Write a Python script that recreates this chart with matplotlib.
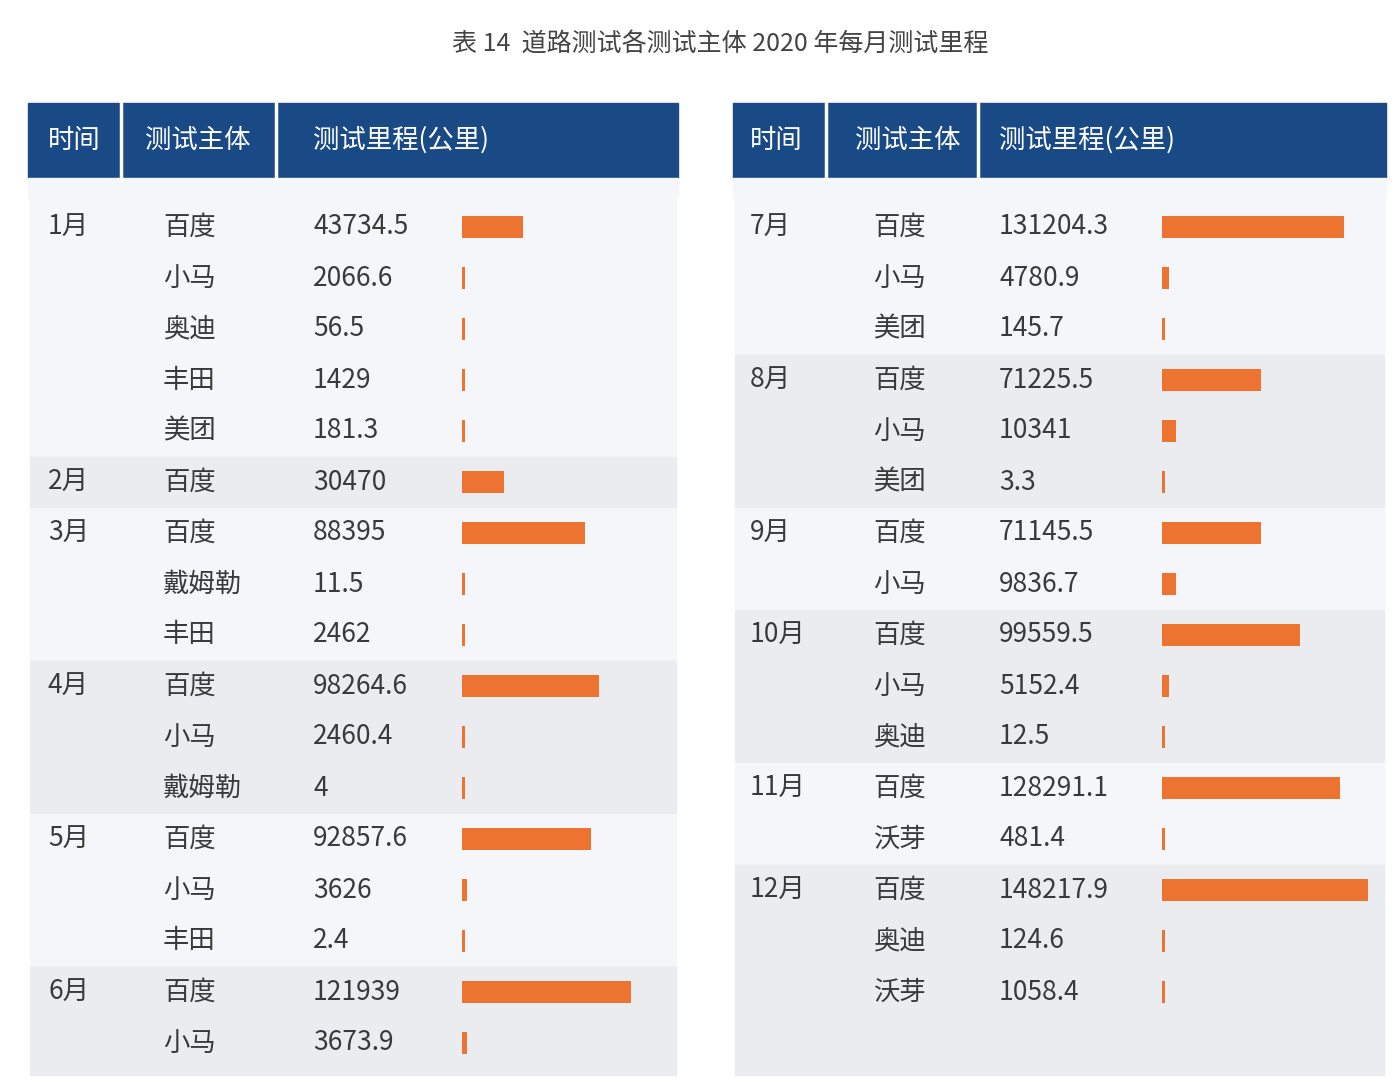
import matplotlib
matplotlib.use("Agg")
import matplotlib.pyplot as plt
from matplotlib.patches import Rectangle
from matplotlib import font_manager

names_avail = sorted({f.name for f in font_manager.fontManager.ttflist if "CJK" in f.name})
print(names_avail)
cjk = names_avail[0] if names_avail else "DejaVu Sans"
plt.rcParams["font.family"] = [cjk, "DejaVu Sans"]

# 数据
left_months = ["1月", "", "", "", "", "2月", "3月", "", "", "4月", "", "", "5月", "", "", "6月", ""]
left_names = ["百度", "小马", "奥迪", "丰田", "美团", "百度", "百度", "戴姆勒", "丰田",
              "百度", "小马", "戴姆勒", "百度", "小马", "丰田", "百度", "小马"]
left_values = ["43734.5", "2066.6", "56.5", "1429", "181.3", "30470", "88395", "11.5", "2462",
               "98264.6", "2460.4", "4", "92857.6", "3626", "2.4", "121939", "3673.9"]
left_groups = [5, 1, 3, 3, 3, 2]

right_months = ["7月", "", "", "8月", "", "", "9月", "", "10月", "", "", "11月", "", "12月", "", ""]
right_names = ["百度", "小马", "美团", "百度", "小马", "美团", "百度", "小马", "百度", "小马", "奥迪",
               "百度", "沃芽", "百度", "奥迪", "沃芽"]
right_values = ["131204.3", "4780.9", "145.7", "71225.5", "10341", "3.3", "71145.5", "9836.7",
                "99559.5", "5152.4", "12.5", "128291.1", "481.4", "148217.9", "124.6", "1058.4"]
right_groups = [3, 3, 2, 3, 2, 3]

headers = ["时间", "测试主体", "测试里程(公里)"]
title = "表 14  道路测试各测试主体 2020 年每月测试里程"

BLUE = "#1a4a86"
ORANGE = "#ec7330"
TXT = "#3a3a3a"
scale = 0.00139  # 像素 / 公里
row_h = 51
row0 = 227

fig = plt.figure(figsize=(13.94, 10.86), dpi=100)
ax = fig.add_axes([0, 0, 1, 1])
ax.set_xlim(0, 1394)
ax.set_ylim(1086, 0)
ax.axis("off")

ax.text(720, 44, title, ha="center", va="center", fontsize=18, color="#444444")


def draw_table(x0, x1, seps, cols, bar_x, months, names, values, groups, bottom):
    ax.add_patch(Rectangle((x0, 103), x1 - x0, 75, color=BLUE))
    for s in seps:
        ax.plot([s, s], [103, 178], color="white", lw=2.5)
    for h, cx in zip(headers, [cols[0], cols[1] - 18, cols[2]]):
        ax.text(cx, 140, h, ha="left", va="center", fontsize=19, color="white")
    ax.add_patch(Rectangle((x0, 178), x1 - x0, 20, color="#f5f6f9"))
    i = 0
    for g, n in enumerate(groups):
        top = row0 + i * row_h - row_h / 2 if i > 0 else 195
        end = row0 + (i + n) * row_h - row_h / 2
        if i + n == len(names):
            end = bottom
        ax.add_patch(Rectangle((x0 + 2, top), x1 - x0 - 4, end - top,
                               color="#ebecf0" if g % 2 else "#f5f6f9"))
        i += n
    ys = [row0 + k * row_h for k in range(len(names))]
    for y, m, nm, v in zip(ys, months, names, values):
        ax.text(cols[0], y, m, ha="left", va="center", fontsize=19, color=TXT)
        ax.text(cols[1], y, nm, ha="left", va="center", fontsize=19, color=TXT)
        ax.text(cols[2], y, v, ha="left", va="center", fontsize=19, color=TXT)
    widths = [max(float(v) * scale, 3) for v in values]
    ax.barh(ys, widths, left=bar_x, height=22, color=ORANGE)


draw_table(28, 678, [121, 276], [48, 163, 313], 462,
           left_months, left_names, left_values, left_groups, 1075)
draw_table(733, 1386, [826, 978], [750, 873, 999], 1162,
           right_months, right_names, right_values, right_groups, 1075)

fig.savefig("out.png", dpi=100)
